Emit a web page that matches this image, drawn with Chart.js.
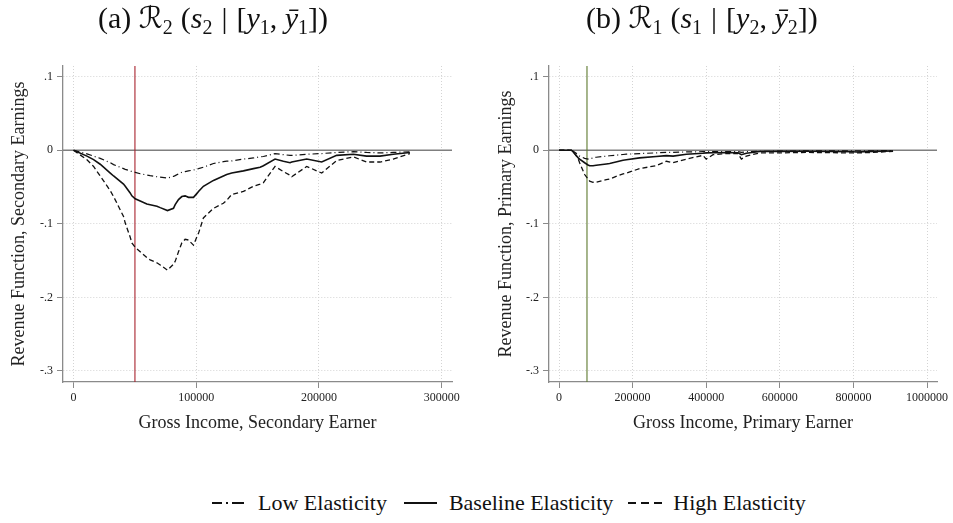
<!DOCTYPE html>
<html>
<head>
<meta charset="utf-8">
<script src="https://cdn.jsdelivr.net/npm/chart.js@4.4.1/dist/chart.umd.min.js"></script>
<style>
  html, body { margin: 0; padding: 0; background: #ffffff; }
  #wrap { position: relative; width: 953px; height: 523px; overflow: hidden; background: #fff; }
  .panel { position: absolute; top: 0; height: 450px; }
  #pA { left: 0; width: 476px; }
  #pB { left: 476px; width: 477px; }
  #legend { position: absolute; left: 212px; top: 490px; height: 26px; display: flex; align-items: center;
            font-family: 'Liberation Serif', 'DejaVu Serif', serif; font-size: 22px; color: #111; white-space: nowrap; }
  #legend svg { display: block; }
  .lg-item { display: flex; align-items: center; }
</style>
</head>
<body>
<div id="wrap">
  <div class="panel" id="pA"><canvas id="cA" width="476" height="450"></canvas></div>
  <div class="panel" id="pB"><canvas id="cB" width="477" height="450"></canvas></div>
  <div id="legend">
    <div class="lg-item">
      <svg width="32" height="10"><line x1="0" y1="5" x2="32" y2="5" stroke="#111" stroke-width="2" stroke-dasharray="10,4,2,4,12"/></svg>
      <span style="margin-left:14px">Low Elasticity</span>
    </div>
    <div class="lg-item" style="margin-left:17px">
      <svg width="33" height="10"><line x1="0" y1="5" x2="33" y2="5" stroke="#111" stroke-width="2.2"/></svg>
      <span style="margin-left:12px">Baseline Elasticity</span>
    </div>
    <div class="lg-item" style="margin-left:15px">
      <svg width="34" height="10"><line x1="0" y1="5" x2="34" y2="5" stroke="#111" stroke-width="2.2" stroke-dasharray="8,5"/></svg>
      <span style="margin-left:11px">High Elasticity</span>
    </div>
  </div>
</div>
<script>
// ---------------- DATA ----------------
// Panel (a): secondary earner
const secIncome   = [0, 10900, 16300, 21700, 29900, 32600, 40700, 42100, 46100, 47500, 50200, 54300, 59700, 62400, 67900, 70600, 76500, 81400, 82800, 85500, 88200, 90900, 93600, 97700, 100400, 101800, 105800, 114000, 122100, 124800, 128900, 138400, 146600, 152000, 154700, 164200, 171000, 176400, 177800, 190000, 202200, 214400, 228000, 238800, 249700, 260500, 274100];
const secLow      = [0, -0.005, -0.008, -0.011, -0.017, -0.0195, -0.025, -0.026, -0.028, -0.029, -0.030, -0.032, -0.0336, -0.0345, -0.036, -0.0365, -0.0377, -0.0355, -0.0345, -0.032, -0.030, -0.029, -0.028, -0.027, -0.0255, -0.025, -0.023, -0.018, -0.0155, -0.0148, -0.0145, -0.012, -0.0105, -0.009, -0.0085, -0.0045, -0.006, -0.007, -0.007, -0.0055, -0.0045, -0.003, -0.002, -0.003, -0.0036, -0.003, -0.002];
const secBaseline = [0, -0.008, -0.0127, -0.019, -0.031, -0.035, -0.046, -0.049, -0.058, -0.062, -0.066, -0.069, -0.073, -0.074, -0.076, -0.078, -0.082, -0.079, -0.074, -0.067, -0.063, -0.062, -0.064, -0.064, -0.059, -0.056, -0.049, -0.041, -0.035, -0.033, -0.031, -0.028, -0.025, -0.023, -0.021, -0.012, -0.015, -0.017, -0.016, -0.012, -0.016, -0.007, -0.0055, -0.008, -0.008, -0.0055, -0.003];
const secHigh     = [0, -0.013, -0.022, -0.035, -0.055, -0.063, -0.090, -0.099, -0.118, -0.126, -0.132, -0.138, -0.146, -0.149, -0.153, -0.156, -0.163, -0.155, -0.151, -0.138, -0.126, -0.121, -0.122, -0.129, -0.118, -0.113, -0.092, -0.079, -0.072, -0.068, -0.060, -0.056, -0.049, -0.046, -0.044, -0.022, -0.029, -0.034, -0.036, -0.022, -0.031, -0.014, -0.009, -0.016, -0.016, -0.012, -0.0045];
const secMarker   = 50000;

// Panel (b): primary earner
const priIncome   = [0, 33500, 38000, 51600, 56000, 69700, 78800, 83300, 92400, 101000, 128600, 137700, 174000, 183000, 219000, 264000, 291700, 310000, 346000, 391000, 400000, 418500, 454700, 486400, 495500, 509000, 545300, 600000, 672000, 799000, 808000, 853000, 907600];
const priLow      = [0, 0, -0.001, -0.006, -0.008, -0.011, -0.012, -0.0115, -0.0105, -0.0095, -0.008, -0.0075, -0.0058, -0.0054, -0.0045, -0.0036, -0.003, -0.003, -0.0022, -0.002, -0.002, -0.0018, -0.0018, -0.0018, -0.003, -0.002, -0.0015, -0.0012, -0.0009, -0.0008, -0.0008, -0.0007, -0.0005];
const priBaseline = [0, 0, -0.002, -0.010, -0.012, -0.017, -0.020, -0.021, -0.021, -0.0205, -0.0186, -0.018, -0.0136, -0.013, -0.0104, -0.0085, -0.0073, -0.008, -0.0054, -0.004, -0.0036, -0.0034, -0.003, -0.0036, -0.006, -0.004, -0.0018, -0.0016, -0.0014, -0.002, -0.0023, -0.0015, -0.001];
const priHigh     = [0, 0, -0.001, -0.011, -0.017, -0.033, -0.039, -0.042, -0.0435, -0.0435, -0.040, -0.039, -0.032, -0.031, -0.025, -0.021, -0.015, -0.017, -0.012, -0.007, -0.012, -0.006, -0.0045, -0.0045, -0.012, -0.008, -0.0036, -0.0036, -0.003, -0.0036, -0.0036, -0.003, -0.0014];
const priMarker   = 76000;

// Axes
const yTicks      = [0.1, 0, -0.1, -0.2, -0.3];
const yRange      = [-0.315, 0.1145];
const secTicks    = [0, 100000, 200000, 300000];
const secRange    = [-8630, 308400];
const priTicks    = [0, 200000, 400000, 600000, 800000, 1000000];
const priRange    = [-27200, 1027000];
const secXTitle   = 'Gross Income, Secondary Earner';
const priXTitle   = 'Gross Income, Primary Earner';
const secYTitle   = 'Revenue Function, Secondary Earnings';
const priYTitle   = 'Revenue Function, Primary Earnings';
const seriesNames = ['Low Elasticity', 'Baseline Elasticity', 'High Elasticity'];

// ---------------- RENDER ----------------
const F = "'Liberation Serif', 'DejaVu Serif', serif";
const axisGray = '#8a8a8a';
const gridGray = '#d4d4d4';

function fmtY(v) {
  if (Math.abs(v) < 1e-9) return '0';
  const s = (Math.round(v * 10) / 10).toString();
  return s.replace('0.', '.');
}

function pts(xs, ys) { return xs.map((x, i) => ({ x: x, y: ys[i] })); }

// rich title plugin
function titlePlugin(segments, startX, baseY) {
  return {
    id: 'richTitle',
    afterDraw(chart) {
      const ctx = chart.ctx;
      ctx.save();
      ctx.fillStyle = '#111';
      ctx.textBaseline = 'alphabetic';
      ctx.textAlign = 'left';
      let x = startX;
      for (const s of segments) {
        const size = s.sub ? 20 : 30;
        ctx.font = (s.it ? 'italic ' : '') + size + 'px ' + F + ", 'DejaVu Sans'";
        const y = baseY + (s.sub ? 6 : 0);
        x += (s.pre || 0);
        ctx.fillText(s.t, x, y);
        x += ctx.measureText(s.t).width + (s.sp || 0);
      }
      ctx.restore();
    }
  };
}

function makeChart(id, cfg) {
  const ctx = document.getElementById(id).getContext('2d');
  const ds = [
    { label: seriesNames[0], data: pts(cfg.xs, cfg.low), borderColor: '#111', borderWidth: 1.2, borderDash: [6, 3, 1, 3], order: 1 },
    { label: seriesNames[1], data: pts(cfg.xs, cfg.base), borderColor: '#111', borderWidth: 1.6, order: 1 },
    { label: seriesNames[2], data: pts(cfg.xs, cfg.high), borderColor: '#111', borderWidth: 1.3, borderDash: [5, 3], order: 1 },
    { label: 'zero', data: [{ x: cfg.xr[0], y: 0 }, { x: cfg.xr[1], y: 0 }], borderColor: '#7f7f7f', borderWidth: 1.3, order: 5 },
    { label: 'marker', data: [{ x: cfg.marker, y: yRange[0] }, { x: cfg.marker, y: yRange[1] }], borderColor: cfg.markerColor, borderWidth: 1.1, order: 4 }
  ];
  ds.forEach(d => { d.pointRadius = 0; d.fill = false; d.tension = 0; d.spanGaps = true; });
  return new Chart(ctx, {
    type: 'line',
    data: { datasets: ds },
    options: {
      responsive: false, animation: false, events: [],
      layout: { padding: { top: cfg.padTop, right: cfg.padRight, left: 0, bottom: 0 } },
      plugins: { legend: { display: false }, tooltip: { enabled: false }, title: { display: false } },
      scales: {
        x: {
          type: 'linear', min: cfg.xr[0], max: cfg.xr[1],
          afterBuildTicks: s => { s.ticks = cfg.xticks.map(v => ({ value: v })); },
          afterFit: s => { s.height = cfg.xh; },
          ticks: { callback: v => String(v), font: { family: F, size: 12 }, color: '#222', padding: 3, maxRotation: 0, minRotation: 0, autoSkip: false },
          grid: { color: gridGray, lineWidth: 1, tickColor: axisGray, tickLength: 6, tickWidth: 1, tickBorderDash: [] },
          border: { color: axisGray, width: 1.3, dash: [1, 2] },
          title: { display: true, text: cfg.xtitle, font: { family: F, size: 18 }, color: '#222', padding: { top: 0, bottom: cfg.xtPad } }
        },
        y: {
          type: 'linear', min: yRange[0], max: yRange[1],
          afterBuildTicks: s => { s.ticks = yTicks.map(v => ({ value: v })); },
          afterFit: s => { s.width = cfg.yw; },
          ticks: { callback: v => fmtY(v), font: { family: F, size: 12 }, color: '#222', padding: 4 },
          grid: { color: gridGray, lineWidth: 1, tickColor: axisGray, tickLength: 6, tickWidth: 1, tickBorderDash: [] },
          border: { color: axisGray, width: 1.3, dash: [1, 2] },
          title: { display: true, text: cfg.ytitle, font: { family: F, size: 18 }, color: '#222', padding: { top: cfg.ytPad, bottom: 0 } }
        }
      }
    },
    plugins: [titlePlugin(cfg.title, cfg.titleX, cfg.titleY)]
  });
}

const titleA = [
  { t: '(a) ' }, { t: '\u211B' }, { t: '2', sub: true, sp: 8 },
  { t: '(' }, { t: 's', it: true }, { t: '2', sub: true, sp: 9 }, { t: '|', sp: 9 }, { t: '[' },
  { t: 'y', it: true }, { t: '1', sub: true }, { t: ', ' }, { t: '\u0233', it: true }, { t: '1', sub: true }, { t: '])' }
];
const titleB = [
  { t: '(b) ' }, { t: '\u211B' }, { t: '1', sub: true, sp: 8 },
  { t: '(' }, { t: 's', it: true }, { t: '1', sub: true, sp: 9 }, { t: '|', sp: 9 }, { t: '[' },
  { t: 'y', it: true }, { t: '2', sub: true }, { t: ', ' }, { t: '\u0233', it: true }, { t: '2', sub: true }, { t: '])' }
];

makeChart('cA', {
  xs: secIncome, low: secLow, base: secBaseline, high: secHigh,
  xr: secRange, xticks: secTicks, marker: secMarker, markerColor: '#a8232e',
  xtitle: secXTitle, ytitle: secYTitle,
  padTop: 66, padRight: 24, xh: 68, yw: 63, xtPad: 16, ytPad: 8,
  title: titleA, titleX: 98, titleY: 28
});
makeChart('cB', {
  xs: priIncome, low: priLow, base: priBaseline, high: priHigh,
  xr: priRange, xticks: priTicks, marker: priMarker, markerColor: '#5d7a2e',
  xtitle: priXTitle, ytitle: priYTitle,
  padTop: 66, padRight: 16, xh: 68, yw: 73, xtPad: 16, ytPad: 19,
  title: titleB, titleX: 110, titleY: 28
});
</script>
</body>
</html>
